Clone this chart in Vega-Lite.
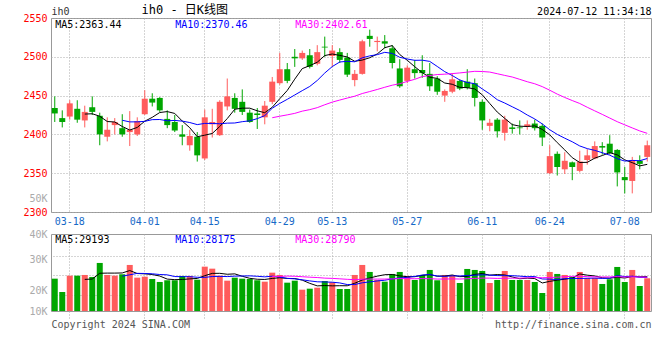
{
  "$schema": "https://vega.github.io/schema/vega-lite/v6.json",
  "background": "white",
  "padding": {"left": 22, "top": 2, "right": 0, "bottom": 0},
  "bounds": "flush",
  "spacing": 22,
  "datasets": {
    "k": [
      {"d":"03-14","o":2434,"h":2449,"l":2416,"c":2427,"v":27300},
      {"d":"03-15","o":2421,"h":2431,"l":2409,"c":2416,"v":16060},
      {"d":"03-18","o":2423,"h":2444,"l":2419,"c":2440,"v":29830},
      {"d":"03-19","o":2433,"h":2444,"l":2415,"c":2419,"v":29830},
      {"d":"03-20","o":2418,"h":2437,"l":2409,"c":2429,"v":30420},
      {"d":"03-21","o":2435,"h":2449,"l":2425,"c":2429,"v":28730},
      {"d":"03-22","o":2424,"h":2428,"l":2386,"c":2400,"v":40560},
      {"d":"03-25","o":2397,"h":2422,"l":2391,"c":2406,"v":30420},
      {"d":"03-26","o":2412,"h":2421,"l":2400,"c":2416,"v":29830},
      {"d":"03-27","o":2408,"h":2426,"l":2397,"c":2400,"v":31010},
      {"d":"03-28","o":2403,"h":2430,"l":2385,"c":2406,"v":38870},
      {"d":"03-29","o":2400,"h":2422,"l":2398,"c":2417,"v":28140},
      {"d":"04-01","o":2426,"h":2457,"l":2425,"c":2446,"v":28980},
      {"d":"04-02","o":2446,"h":2453,"l":2436,"c":2441,"v":27040},
      {"d":"04-03","o":2447,"h":2448,"l":2429,"c":2431,"v":24510},
      {"d":"04-08","o":2420,"h":2431,"l":2408,"c":2412,"v":25940},
      {"d":"04-09","o":2416,"h":2425,"l":2403,"c":2405,"v":25940},
      {"d":"04-10","o":2400,"h":2412,"l":2386,"c":2397,"v":29580},
      {"d":"04-11","o":2386,"h":2406,"l":2379,"c":2398,"v":29580},
      {"d":"04-12","o":2397,"h":2403,"l":2365,"c":2373,"v":26450},
      {"d":"04-15","o":2369,"h":2432,"l":2367,"c":2422,"v":37430},
      {"d":"04-16","o":2413,"h":2433,"l":2396,"c":2416,"v":35740},
      {"d":"04-17","o":2399,"h":2444,"l":2398,"c":2442,"v":29830},
      {"d":"04-18","o":2436,"h":2472,"l":2431,"c":2449,"v":25600},
      {"d":"04-19","o":2447,"h":2453,"l":2428,"c":2433,"v":28140},
      {"d":"04-22","o":2442,"h":2458,"l":2425,"c":2429,"v":27290},
      {"d":"04-23","o":2428,"h":2432,"l":2415,"c":2416,"v":27040},
      {"d":"04-24","o":2427,"h":2434,"l":2407,"c":2425,"v":25940},
      {"d":"04-25","o":2422,"h":2443,"l":2413,"c":2437,"v":24760},
      {"d":"04-26","o":2442,"h":2474,"l":2439,"c":2468,"v":32360},
      {"d":"04-29","o":2466,"h":2505,"l":2464,"c":2484,"v":30420},
      {"d":"04-30","o":2484,"h":2492,"l":2466,"c":2469,"v":23910},
      {"d":"05-06","o":2500,"h":2510,"l":2487,"c":2498,"v":25600},
      {"d":"05-07","o":2498,"h":2508,"l":2496,"c":2505,"v":18000},
      {"d":"05-08","o":2502,"h":2510,"l":2485,"c":2487,"v":18840},
      {"d":"05-09","o":2491,"h":2515,"l":2489,"c":2506,"v":19690},
      {"d":"05-10","o":2513,"h":2526,"l":2500,"c":2512,"v":25350},
      {"d":"05-13","o":2501,"h":2515,"l":2487,"c":2508,"v":24250},
      {"d":"05-14","o":2506,"h":2511,"l":2492,"c":2496,"v":18590},
      {"d":"05-15","o":2499,"h":2505,"l":2474,"c":2477,"v":18590},
      {"d":"05-16","o":2470,"h":2483,"l":2462,"c":2478,"v":30420},
      {"d":"05-17","o":2478,"h":2522,"l":2477,"c":2520,"v":38870},
      {"d":"05-20","o":2527,"h":2535,"l":2513,"c":2523,"v":32960},
      {"d":"05-21","o":2519,"h":2526,"l":2507,"c":2520.5,"v":26200},
      {"d":"05-22","o":2520,"h":2528,"l":2511,"c":2517,"v":24760},
      {"d":"05-23","o":2511,"h":2515,"l":2485,"c":2492,"v":31270},
      {"d":"05-24","o":2485,"h":2497,"l":2460,"c":2462,"v":32960},
      {"d":"05-27","o":2469,"h":2489,"l":2466,"c":2486,"v":29580},
      {"d":"05-28","o":2484,"h":2496,"l":2472,"c":2479,"v":26200},
      {"d":"05-29","o":2483,"h":2502,"l":2473,"c":2479,"v":30420},
      {"d":"05-30","o":2478,"h":2492,"l":2456,"c":2462,"v":34650},
      {"d":"05-31","o":2472,"h":2475,"l":2451,"c":2455,"v":25940},
      {"d":"06-03","o":2450,"h":2458,"l":2442,"c":2456,"v":30420},
      {"d":"06-04","o":2455,"h":2479,"l":2453,"c":2471,"v":30420},
      {"d":"06-05","o":2469,"h":2471,"l":2457,"c":2459,"v":23660},
      {"d":"06-06","o":2468,"h":2484,"l":2458,"c":2460,"v":35490},
      {"d":"06-07","o":2466,"h":2472,"l":2436,"c":2447,"v":34650},
      {"d":"06-11","o":2442,"h":2445,"l":2406,"c":2418,"v":33800},
      {"d":"06-12","o":2411,"h":2420,"l":2404,"c":2415,"v":23660},
      {"d":"06-13","o":2419,"h":2421,"l":2396,"c":2404,"v":26200},
      {"d":"06-14","o":2402,"h":2424,"l":2392,"c":2419,"v":33800},
      {"d":"06-17","o":2409,"h":2414,"l":2401,"c":2407,"v":26200},
      {"d":"06-18","o":2409,"h":2418,"l":2400,"c":2408,"v":26200},
      {"d":"06-19","o":2410,"h":2418,"l":2406,"c":2413,"v":26200},
      {"d":"06-20","o":2414,"h":2419,"l":2405,"c":2408,"v":24510},
      {"d":"06-21","o":2411,"h":2414,"l":2385,"c":2396,"v":15210},
      {"d":"06-24","o":2350,"h":2386,"l":2349,"c":2372,"v":32960},
      {"d":"06-25","o":2375,"h":2378,"l":2347,"c":2358,"v":31270},
      {"d":"06-26","o":2355,"h":2377,"l":2349,"c":2366,"v":30420},
      {"d":"06-27","o":2364,"h":2365,"l":2341,"c":2358,"v":28730},
      {"d":"06-28","o":2353,"h":2379,"l":2351,"c":2365,"v":32960},
      {"d":"07-01","o":2367,"h":2381,"l":2361,"c":2373,"v":27890},
      {"d":"07-02","o":2369,"h":2391,"l":2368,"c":2385,"v":27890},
      {"d":"07-03","o":2385,"h":2390,"l":2374,"c":2383,"v":22820},
      {"d":"07-04","o":2388,"h":2399,"l":2374,"c":2376,"v":26790},
      {"d":"07-05","o":2380,"h":2381,"l":2333,"c":2351,"v":37180},
      {"d":"07-08","o":2345,"h":2358,"l":2324,"c":2341,"v":24510},
      {"d":"07-09","o":2340,"h":2371,"l":2324,"c":2367,"v":34650},
      {"d":"07-10","o":2366,"h":2373,"l":2355,"c":2362,"v":21130},
      {"d":"07-11","o":2371,"h":2392,"l":2365,"c":2386,"v":27630}
    ]
  },
  "data": {"name": "k"},
  "config": {
    "view": {"stroke": "#999", "strokeWidth": 1},
    "font": "DejaVu Sans Mono",
    "axis": {
      "labelFont": "DejaVu Sans Mono", "labelFontSize": 10,
      "titleFont": "DejaVu Sans Mono", "titleFontSize": 10, "titleFontWeight": "normal",
      "gridColor": "#aaa", "gridDash": [1, 2], "gridWidth": 1,
      "ticks": false, "domain": false, "labelOverlap": false
    },
    "text": {"font": "DejaVu Sans Mono", "fontSize": 10}
  },
  "vconcat": [
    {
      "width": 600,
      "height": 194,
      "layer": [
        {
          "mark": {"type": "rule", "strokeWidth": 1},
          "encoding": {
            "x": {
              "field": "d", "type": "ordinal", "sort": null,
              "scale": {"paddingInner": 0.2, "paddingOuter": 0.1},
              "axis": {
                "values": ["03-18","04-01","04-15","04-29","05-13","05-27","06-11","06-24","07-08"],
                "title": null, "labelAngle": 0, "labelColor": "#1569c7", "labelPadding": 4,
                "grid": true, "bandPosition": 0.5
              }
            },
            "y": {
              "field": "l", "type": "quantitative",
              "scale": {"domain": [2300, 2550], "nice": false, "zero": false},
              "axis": {
                "values": [2300, 2317, 2350, 2400, 2450, 2500, 2550],
                "format": "d",
                "labelExpr": "datum.value == 2317 ? '50K' : datum.label",
                "labelColor": {"condition": {"test": "datum.value == 2317", "value": "#aaa"}, "value": "#f00"},
                "gridOpacity": {"condition": {"test": "datum.value == 2317", "value": 0}, "value": 1},
                "grid": true, "labelPadding": 4, "labelFlush": false, "labelBaseline": "middle",
                "title": "ih0", "titleAngle": 0, "titleX": 0, "titleY": -2,
                "titleAlign": "left", "titleBaseline": "bottom", "titleColor": "#333"
              }
            },
            "y2": {"field": "h"},
            "color": {"condition": {"test": "datum.c >= datum.o", "value": "#ff5c5c"}, "value": "#00a600"}
          }
        },
        {
          "mark": {"type": "bar"},
          "encoding": {
            "x": {
              "field": "d", "type": "ordinal", "sort": null,
              "axis": {
                "orient": "top", "title": "2024-07-12 11:34:18", "labels": false, "grid": false,
                "titleX": 600, "titleY": -2, "titleAlign": "right", "titleBaseline": "bottom", "titleColor": "#000"
              }
            },
            "y": {
              "field": "o", "type": "quantitative",
              "axis": {
                "orient": "right", "title": "ih0 - 日K线图", "labels": false, "grid": false,
                "titleAngle": 0, "titleX": -510, "titleY": -2, "titleAlign": "left", "titleBaseline": "bottom",
                "titleFont": "DejaVu Sans Mono, Noto Sans CJK SC", "titleFontSize": 12, "titleColor": "#000"
              }
            },
            "y2": {"field": "c"},
            "color": {"condition": {"test": "datum.c >= datum.o", "value": "#ff5c5c"}, "value": "#00a600"}
          }
        },
        {
          "transform": [
            {"window": [{"op": "mean", "field": "c", "as": "m"}, {"op": "row_number", "as": "n"}], "frame": [-4, 0]},
            {"filter": "datum.n >= 5"}
          ],
          "mark": {"type": "line", "color": "#000", "strokeWidth": 1},
          "encoding": {
            "x": {"field": "d", "type": "ordinal", "sort": null, "axis": null},
            "y": {"field": "m", "type": "quantitative", "axis": null}
          }
        },
        {
          "transform": [
            {"window": [{"op": "mean", "field": "c", "as": "m"}, {"op": "row_number", "as": "n"}], "frame": [-9, 0]},
            {"filter": "datum.n >= 10"}
          ],
          "mark": {"type": "line", "color": "#0000ff", "strokeWidth": 1},
          "encoding": {
            "x": {"field": "d", "type": "ordinal", "sort": null, "axis": null},
            "y": {"field": "m", "type": "quantitative", "axis": null}
          }
        },
        {
          "transform": [
            {"window": [{"op": "mean", "field": "c", "as": "m"}, {"op": "row_number", "as": "n"}], "frame": [-29, 0]},
            {"filter": "datum.n >= 30"}
          ],
          "mark": {"type": "line", "color": "#ff00ff", "strokeWidth": 1},
          "encoding": {
            "x": {"field": "d", "type": "ordinal", "sort": null, "axis": null},
            "y": {"field": "m", "type": "quantitative", "axis": null}
          }
        },
        {
          "data": {"values": [{}]},
          "mark": {"type": "text", "text": "MA5:2363.44", "color": "#000", "align": "left", "baseline": "top", "dx": 0.5, "dy": 2},
          "encoding": {
            "x": {"datum": "03-14", "type": "ordinal", "axis": null},
            "y": {"datum": 2550, "type": "quantitative", "axis": null}
          }
        },
        {
          "data": {"values": [{}]},
          "mark": {"type": "text", "text": "MA10:2370.46", "color": "#0000ff", "align": "left", "baseline": "top", "dx": 0.5, "dy": 2},
          "encoding": {
            "x": {"datum": "04-09", "type": "ordinal", "axis": null},
            "y": {"datum": 2550, "type": "quantitative", "axis": null}
          }
        },
        {
          "data": {"values": [{}]},
          "mark": {"type": "text", "text": "MA30:2402.61", "color": "#ff00ff", "align": "left", "baseline": "top", "dx": 0.5, "dy": 2},
          "encoding": {
            "x": {"datum": "05-06", "type": "ordinal", "axis": null},
            "y": {"datum": 2550, "type": "quantitative", "axis": null}
          }
        }
      ],
      "resolve": {"axis": {"x": "independent", "y": "independent"}}
    },
    {
      "width": 600,
      "height": 77,
      "layer": [
        {
          "mark": {"type": "bar"},
          "encoding": {
            "x": {
              "field": "d", "type": "ordinal", "sort": null,
              "scale": {"paddingInner": 0.2, "paddingOuter": 0.1},
              "axis": {
                "values": ["03-18","04-01","04-15","04-29","05-13","05-27","06-11","06-24","07-08"],
                "labels": false, "grid": true, "bandPosition": 0.5,
                "ticks": true, "tickDash": [1, 2], "tickColor": "#aaa", "tickSize": 9,
                "title": "http://finance.sina.com.cn", "titleX": 600, "titleY": 13,
                "titleAlign": "right", "titleBaseline": "middle", "titleColor": "#555"
              }
            },
            "y": {
              "field": "v", "type": "quantitative",
              "scale": {"domain": [0, 65000], "nice": false, "zero": true},
              "axis": {
                "values": [0, 17300, 43100, 65000],
                "labelExpr": "datum.value == 0 ? '10K' : datum.value < 20000 ? '20K' : datum.value < 50000 ? '30K' : '40K'",
                "labelColor": "#aaa", "grid": false, "labelPadding": 4, "labelFlush": false,
                "labelBaseline": "middle", "title": null
              }
            },
            "color": {"condition": {"test": "datum.c >= datum.o", "value": "#ff5c5c"}, "value": "#00a600"}
          }
        },
        {
          "transform": [
            {"window": [{"op": "mean", "field": "v", "as": "m"}, {"op": "row_number", "as": "n"}], "frame": [-4, 0]},
            {"filter": "datum.n >= 5"}
          ],
          "mark": {"type": "line", "color": "#000", "strokeWidth": 1},
          "encoding": {
            "x": {
              "field": "d", "type": "ordinal", "sort": null,
              "axis": {
                "orient": "top", "labels": false, "grid": false,
                "title": "Copyright 2024 SINA.COM", "titleX": 0, "titleY": 90,
                "titleAlign": "left", "titleBaseline": "middle", "titleColor": "#555"
              }
            },
            "y": {
              "field": "m", "type": "quantitative",
              "axis": {
                "orient": "right", "values": [13500, 30400, 46700], "labels": false, "grid": true, "title": null
              }
            }
          }
        },
        {
          "transform": [
            {"window": [{"op": "mean", "field": "v", "as": "m"}, {"op": "row_number", "as": "n"}], "frame": [-9, 0]},
            {"filter": "datum.n >= 10"}
          ],
          "mark": {"type": "line", "color": "#0000ff", "strokeWidth": 1},
          "encoding": {
            "x": {"field": "d", "type": "ordinal", "sort": null, "axis": null},
            "y": {"field": "m", "type": "quantitative", "axis": null}
          }
        },
        {
          "transform": [
            {"window": [{"op": "mean", "field": "v", "as": "m"}, {"op": "row_number", "as": "n"}], "frame": [-29, 0]},
            {"filter": "datum.n >= 30"}
          ],
          "mark": {"type": "line", "color": "#ff00ff", "strokeWidth": 1},
          "encoding": {
            "x": {"field": "d", "type": "ordinal", "sort": null, "axis": null},
            "y": {"field": "m", "type": "quantitative", "axis": null}
          }
        },
        {
          "data": {"values": [{}]},
          "mark": {"type": "text", "text": "MA5:29193", "color": "#000", "align": "left", "baseline": "top", "dx": 0.5, "dy": 1},
          "encoding": {
            "x": {"datum": "03-14", "type": "ordinal", "axis": null},
            "y": {"datum": 65000, "type": "quantitative", "axis": null}
          }
        },
        {
          "data": {"values": [{}]},
          "mark": {"type": "text", "text": "MA10:28175", "color": "#0000ff", "align": "left", "baseline": "top", "dx": 0.5, "dy": 1},
          "encoding": {
            "x": {"datum": "04-09", "type": "ordinal", "axis": null},
            "y": {"datum": 65000, "type": "quantitative", "axis": null}
          }
        },
        {
          "data": {"values": [{}]},
          "mark": {"type": "text", "text": "MA30:28790", "color": "#ff00ff", "align": "left", "baseline": "top", "dx": 0.5, "dy": 1},
          "encoding": {
            "x": {"datum": "05-06", "type": "ordinal", "axis": null},
            "y": {"datum": 65000, "type": "quantitative", "axis": null}
          }
        }
      ],
      "resolve": {"axis": {"x": "independent", "y": "independent"}}
    }
  ]
}
